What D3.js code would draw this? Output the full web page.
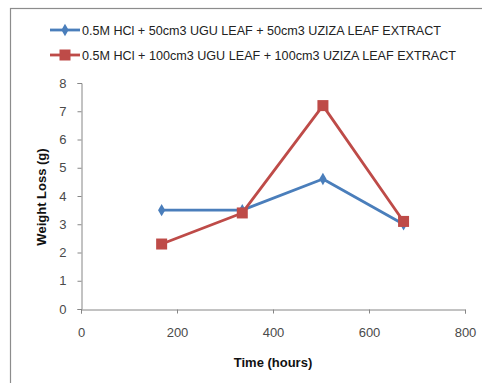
<!DOCTYPE html>
<html><head><meta charset="utf-8">
<script src="https://cdn.jsdelivr.net/npm/d3@7"></script>
<style>body{margin:0;background:#fff}</style></head>
<body><svg id="c" width="482" height="383"></svg>
<script>
const times = [168, 336, 504, 672];
const series1 = [3.5, 3.5, 4.6, 3.0];
const series2 = [2.3, 3.4, 7.2, 3.1];
const seriesNames = ["0.5M HCl + 50cm3 UGU LEAF + 50cm3 UZIZA LEAF EXTRACT",
                     "0.5M HCl + 100cm3 UGU LEAF + 100cm3 UZIZA LEAF EXTRACT"];
const xTicks = [0, 200, 400, 600, 800];
const yTicks = [0, 1, 2, 3, 4, 5, 6, 7, 8];
const colors = ["#4a7ebb", "#be4b48"];
const font = "'Liberation Sans', Arial, sans-serif";

const svg = d3.select("#c");
svg.append("rect").attr("x", 10.5).attr("y", 8.5).attr("width", 480).attr("height", 380)
  .attr("fill", "none").attr("stroke", "#8c8c8c").attr("stroke-width", 1.2);

const x = d3.scaleLinear().domain([0, 800]).range([81, 465]);
const y = d3.scaleLinear().domain([0, 8]).range([309, 83]);

const gx = svg.append("g").attr("transform", "translate(0,309.5)")
  .call(d3.axisBottom(x).tickValues(xTicks).tickSize(4).tickPadding(14));
const gy = svg.append("g").attr("transform", "translate(81.5,0)")
  .call(d3.axisLeft(y).tickValues(yTicks).tickSize(4).tickPadding(11));
[gx, gy].forEach(g => {
  g.selectAll("path,line").attr("stroke", "#868686");
  g.selectAll("text").attr("font-family", font).attr("font-size", 13).attr("fill", "#4a4a4a");
});

svg.append("text").attr("x", 273).attr("y", 367).attr("text-anchor", "middle")
  .attr("font-family", font).attr("font-weight", "bold").attr("font-size", 13).attr("fill", "#111").text("Time (hours)");
svg.append("text").attr("transform", "translate(46,197) rotate(-90)").attr("text-anchor", "middle")
  .attr("font-family", font).attr("font-weight", "bold").attr("font-size", 13).attr("fill", "#111").text("Weight Loss (g)");

const line = d3.line().x((d, i) => x(times[i])).y(d => y(d));
[series1, series2].forEach((s, k) => {
  svg.append("path").datum(s).attr("d", line).attr("fill", "none")
    .attr("stroke", colors[k]).attr("stroke-width", 2.8).attr("stroke-linejoin", "round");
});
const sym1 = d3.symbol().type(d3.symbolDiamond).size(45);
svg.selectAll(".m1").data(series1).enter().append("path")
  .attr("transform", (d, i) => `translate(${x(times[i])},${y(d)})`)
  .attr("d", sym1).attr("fill", colors[0]);
svg.selectAll(".m2").data(series2).enter().append("rect")
  .attr("x", (d, i) => x(times[i]) - 5.5).attr("y", d => y(d) - 5.5)
  .attr("width", 11).attr("height", 11).attr("fill", colors[1]);

// legend
const legY = [30, 55];
seriesNames.forEach((n, k) => {
  const g = svg.append("g");
  g.append("line").attr("x1", 50).attr("x2", 80).attr("y1", legY[k]).attr("y2", legY[k])
    .attr("stroke", colors[k]).attr("stroke-width", 2.8);
  if (k === 0) g.append("path").attr("transform", `translate(65,${legY[k]})`).attr("d", sym1).attr("fill", colors[0]);
  else g.append("rect").attr("x", 59.5).attr("y", legY[k] - 5.5).attr("width", 11).attr("height", 11).attr("fill", colors[1]);
  g.append("text").attr("x", 82).attr("y", legY[k] + 4.5).attr("font-family", font)
    .attr("font-size", 12.5).attr("fill", "#222").attr("textLength", k === 0 ? 359 : 374)
    .attr("lengthAdjust", "spacingAndGlyphs").text(n);
});
</script></body></html>
